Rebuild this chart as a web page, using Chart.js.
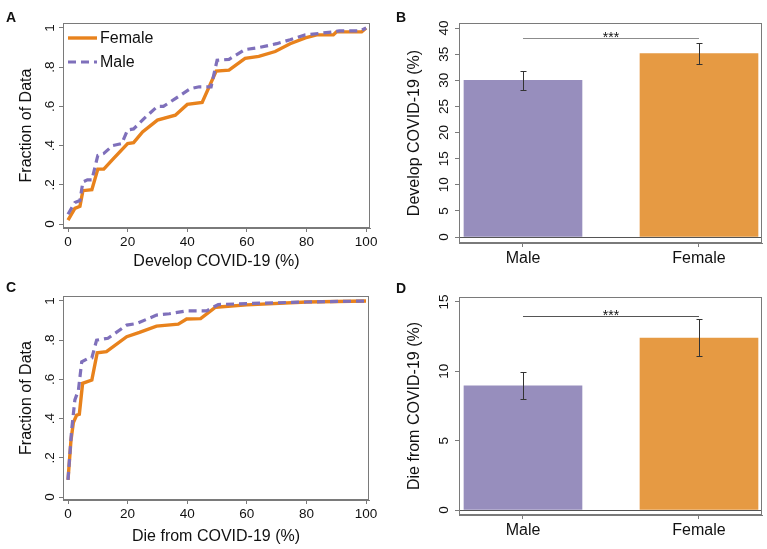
<!DOCTYPE html>
<html>
<head>
<meta charset="utf-8">
<title>COVID-19 by sex</title>
<script src="https://cdn.jsdelivr.net/npm/chart.js@4.4.0/dist/chart.umd.min.js"></script>
<style>
  body { margin: 0; background: #fff; }
  #wrap { position: relative; width: 767px; height: 549px; overflow: hidden; }
  canvas { position: absolute; }
  .lab { position: absolute; z-index: 2; font: bold 14px 'Liberation Sans', Arial, sans-serif; line-height: 14px; color: #111; }
</style>
</head>
<body>
<div id="wrap">
  <canvas id="chartA" style="left:0;top:0" width="380" height="275"></canvas>
  <canvas id="chartB" style="left:380px;top:0" width="387" height="275"></canvas>
  <canvas id="chartC" style="left:0;top:275px" width="380" height="274"></canvas>
  <canvas id="chartD" style="left:380px;top:275px" width="387" height="274"></canvas>
  <div class="lab" style="left:6px;top:10px">A</div>
  <div class="lab" style="left:396px;top:10px">B</div>
  <div class="lab" style="left:6px;top:280px">C</div>
  <div class="lab" style="left:396px;top:281px">D</div>
</div>
<script>
// ---- data ----
// A: cumulative distribution, develop COVID-19 (%)
const femaleDevX = [0, 2.3, 4, 5, 8, 10, 12, 15, 20, 22, 25, 30, 36, 40, 45, 49.7, 54, 59.4, 64, 69.5, 74.5, 79.6, 83.4, 89, 90, 98.5, 100];
const femaleDevY = [0.02, 0.08, 0.09, 0.17, 0.175, 0.28, 0.28, 0.33, 0.41, 0.415, 0.47, 0.53, 0.555, 0.61, 0.62, 0.78, 0.785, 0.845, 0.855, 0.88, 0.92, 0.95, 0.965, 0.965, 0.98, 0.98, 1.0];
const maleDevX = [0, 2.3, 4, 5, 6.5, 8, 10, 12, 15, 18, 20, 22, 26, 30, 32, 36, 41, 44, 48, 50, 54, 59.4, 64, 70, 74.5, 79.6, 89, 91, 98, 100];
const maleDevY = [0.05, 0.11, 0.12, 0.215, 0.225, 0.225, 0.35, 0.36, 0.40, 0.41, 0.48, 0.485, 0.545, 0.60, 0.60, 0.64, 0.69, 0.70, 0.70, 0.835, 0.84, 0.89, 0.90, 0.92, 0.94, 0.965, 0.98, 0.985, 0.985, 1.0];

// C: cumulative distribution, die from COVID-19 (%)
const femaleDieX = [0, 1, 1.8, 2.9, 3.8, 4.9, 8, 9.8, 12.9, 19.7, 24, 29.7, 37, 39.8, 44.5, 49.5, 60, 80, 100];
const femaleDieY = [0.087, 0.29, 0.38, 0.418, 0.422, 0.58, 0.597, 0.736, 0.742, 0.818, 0.84, 0.872, 0.882, 0.908, 0.91, 0.968, 0.98, 0.995, 1.0];
const maleDieX = [0, 1.2, 2.3, 3.5, 4.6, 6.5, 8, 9.6, 13.4, 19.7, 23, 29.7, 34, 39.8, 46.5, 50.4, 60, 80, 100];
const maleDieY = [0.087, 0.34, 0.495, 0.546, 0.69, 0.705, 0.71, 0.80, 0.81, 0.877, 0.885, 0.928, 0.935, 0.95, 0.95, 0.982, 0.987, 0.995, 1.0];

const seriesNames = ['Male', 'Female'];
const cdfYTicks = [0, 0.2, 0.4, 0.6, 0.8, 1];
const cdfYLabels = ['0', '.2', '.4', '.6', '.8', '1'];
const cdfXTicks = [0, 20, 40, 60, 80, 100];
const cdfXLabels = ['0', '20', '40', '60', '80', '100'];

// B and D: bar means with error bars
const barCats = ['Male', 'Female'];
const devMean = [30.0, 35.1];
const devLow = [28.2, 33.2];
const devHigh = [31.8, 37.1];
const devSig = 38.1;
const devTicks = [0, 5, 10, 15, 20, 25, 30, 35, 40];
const dieMean = [8.95, 12.4];
const dieLow = [8.0, 11.1];
const dieHigh = [9.95, 13.75];
const dieSig = 14.0;
const dieTicks = [0, 5, 10, 15];
const sigLabel = '***';

// ---- styling ----
const FONT = "'Liberation Sans', Arial, Helvetica, sans-serif";
Chart.defaults.font.family = FONT;
Chart.defaults.color = '#111';
Chart.defaults.animation = false;

const ORANGE = '#e8821c';
const PURPLE = '#7f70bb';
const BAR_COLORS = ['#978ebd', '#e69a43'];
const FRAME = '#7a7a7a';

const framePlugin = {
  id: 'frame',
  afterDatasetsDraw(chart) {
    const a = chart.chartArea, c = chart.ctx;
    c.save();
    c.strokeStyle = FRAME;
    c.lineWidth = 1;
    c.strokeRect(a.left + 0.5, a.top + 0.5, a.right - a.left - 1, a.bottom - a.top - 1);
    c.restore();
  }
};

function innerLegend(order) {
  return {
    id: 'innerLegend',
    afterDatasetsDraw(chart) {
      const a = chart.chartArea, c = chart.ctx;
      order.forEach((idx, k) => {
        const d = chart.data.datasets[idx];
        const y = a.top + 15 + k * 24;
        c.save();
        c.strokeStyle = d.borderColor;
        c.lineWidth = d.borderWidth;
        c.setLineDash(d.borderDash || []);
        c.beginPath();
        c.moveTo(a.left + 5, y);
        c.lineTo(a.left + 34, y);
        c.stroke();
        c.setLineDash([]);
        c.fillStyle = '#111';
        c.font = '16px ' + FONT;
        c.textBaseline = 'middle';
        c.fillText(d.label, a.left + 37, y + 1);
        c.restore();
      });
    }
  };
}

function barExtras(lo, hi, sigY, sigColor) {
  return {
    id: 'barExtras',
    afterDatasetsDraw(chart) {
      const xs = chart.scales.x, ys = chart.scales.y, c = chart.ctx;
      c.save();
      c.strokeStyle = '#333';
      c.lineWidth = 1;
      lo.forEach((l, i) => {
        const px = Math.round(xs.getPixelForValue(i)) + 0.5;
        const p1 = Math.round(ys.getPixelForValue(l)) + 0.5;
        const p2 = Math.round(ys.getPixelForValue(hi[i])) + 0.5;
        c.beginPath();
        c.moveTo(px, p1); c.lineTo(px, p2);
        c.moveTo(px - 3, p1); c.lineTo(px + 3, p1);
        c.moveTo(px - 3, p2); c.lineTo(px + 3, p2);
        c.stroke();
      });
      const x0 = xs.getPixelForValue(0), x1 = xs.getPixelForValue(1);
      const sy = Math.round(ys.getPixelForValue(sigY)) + 0.5;
      c.strokeStyle = sigColor;
      c.beginPath();
      c.moveTo(x0, sy); c.lineTo(x1, sy);
      c.stroke();
      c.fillStyle = '#111';
      c.font = '14px ' + FONT;
      c.textAlign = 'center';
      c.textBaseline = 'alphabetic';
      c.fillText(sigLabel, (x0 + x1) / 2, sy + 3);
      c.restore();
    }
  };
}

function yAxis(min, max, ticks, labels, title, width, titlePad, zeroLine) {
  return {
    type: 'linear', min: min, max: max,
    afterBuildTicks: s => { s.ticks = ticks.map(v => ({ value: v })); },
    afterFit: s => { s.width = width; },
    ticks: {
      callback: (v, i) => labels[i],
      minRotation: 90, maxRotation: 90, crossAlign: 'center',
      padding: 3, font: { size: 13.5 }, color: '#111'
    },
    grid: {
      drawOnChartArea: !!zeroLine, tickLength: 4, tickColor: FRAME,
      color: ctx => (zeroLine && ctx.tick && ctx.tick.value === 0) ? '#555' : 'rgba(0,0,0,0)'
    },
    border: { color: FRAME },
    title: { display: true, text: title, font: { size: 16 }, color: '#111', padding: { top: titlePad, bottom: 0 } }
  };
}

function xAxis(min, max, ticks, labels, height, fontSize, title, titlePad) {
  return {
    type: 'linear', min: min, max: max, offset: false,
    afterBuildTicks: s => { s.ticks = ticks.map(v => ({ value: v })); },
    afterFit: s => { s.height = height; },
    ticks: {
      callback: (v, i) => labels[i], autoSkip: false, maxRotation: 0,
      padding: 2, font: { size: fontSize }, color: '#111'
    },
    grid: { offset: false, drawOnChartArea: false, tickLength: 4, tickColor: FRAME, color: 'rgba(0,0,0,0)' },
    border: { color: FRAME },
    title: title
      ? { display: true, text: title, font: { size: 16 }, color: '#111', padding: { top: 0, bottom: titlePad } }
      : { display: false }
  };
}

function pts(xs, ys) {
  return xs.map((x, i) => ({ x: x, y: ys[i] }));
}

function cdfChart(id, malX, malY, femX, femY, xTitle, yMin, xMax, pad, xHeight, titlePad, withLegend) {
  const plugins = [framePlugin];
  if (withLegend) plugins.push(innerLegend([1, 0]));
  return new Chart(document.getElementById(id), {
    type: 'line',
    data: {
      datasets: [
        { label: seriesNames[0], data: pts(malX, malY), borderColor: PURPLE, borderWidth: 3.2,
          borderDash: [8, 5], pointRadius: 0, tension: 0, fill: false },
        { label: seriesNames[1], data: pts(femX, femY), borderColor: ORANGE, borderWidth: 3.4,
          pointRadius: 0, tension: 0, fill: false }
      ]
    },
    options: {
      responsive: false,
      layout: { padding: pad },
      plugins: { legend: { display: false }, tooltip: { enabled: false } },
      scales: {
        x: xAxis(-1.68, xMax, cdfXTicks, cdfXLabels, xHeight, 13.5, xTitle, titlePad),
        y: yAxis(yMin, 1.0255, cdfYTicks, cdfYLabels, 'Fraction of Data', 63, 17, false)
      }
    },
    plugins: plugins
  });
}

function barChart(id, means, lo, hi, sigY, sigColor, yMin, yMax, yTicks, yTitle, pad, xHeight) {
  return new Chart(document.getElementById(id), {
    type: 'bar',
    data: {
      datasets: [{
        data: means.map((v, i) => ({ x: i, y: v })),
        backgroundColor: BAR_COLORS,
        borderWidth: 0,
        barThickness: 118
      }]
    },
    options: {
      responsive: false,
      layout: { padding: pad },
      plugins: { legend: { display: false }, tooltip: { enabled: false } },
      scales: {
        x: xAxis(-0.3636, 1.358, [0, 1], barCats, xHeight, 16, null, 0),
        y: yAxis(yMin, yMax, yTicks, yTicks.map(String), yTitle, 79, 25, true)
      }
    },
    plugins: [framePlugin, barExtras(lo, hi, sigY, sigColor)]
  });
}

cdfChart('chartA', maleDevX, maleDevY, femaleDevX, femaleDevY, 'Develop COVID-19 (%)',
  -0.0204, 101.3, { top: 23, right: 10, left: 0, bottom: 0 }, 47, 3.4, true);
barChart('chartB', devMean, devLow, devHigh, devSig, '#8c8c8c', -1.148, 40.96, devTicks,
  'Develop COVID-19 (%)', { top: 23, right: 5, left: 0, bottom: 0 }, 32);
cdfChart('chartC', maleDieX, maleDieY, femaleDieX, femaleDieY, 'Die from COVID-19 (%)',
  -0.0153, 101.0, { top: 21, right: 11, left: 0, bottom: 0 }, 49, 2.4, false);
barChart('chartD', dieMean, dieLow, dieHigh, dieSig, '#555', -0.36, 15.36, dieTicks,
  'Die from COVID-19 (%)', { top: 22, right: 5, left: 0, bottom: 0 }, 34);
</script>
</body>
</html>
